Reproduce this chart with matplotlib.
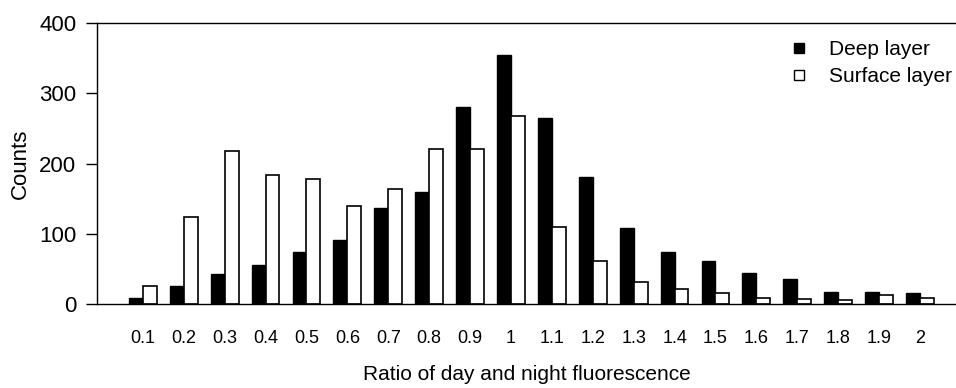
import matplotlib
matplotlib.use("Agg")
import matplotlib.pyplot as plt
from matplotlib.lines import Line2D
import numpy as np

plt.rcParams['font.family'] = ['Liberation Sans', 'DejaVu Sans']

ratios = ["0.1", "0.2", "0.3", "0.4", "0.5", "0.6", "0.7", "0.8", "0.9", "1",
          "1.1", "1.2", "1.3", "1.4", "1.5", "1.6", "1.7", "1.8", "1.9", "2"]
deep = [8, 25, 42, 55, 74, 91, 137, 160, 280, 354,
        265, 181, 108, 74, 61, 44, 35, 17, 17, 15]
surface = [25, 124, 218, 183, 178, 139, 163, 220, 221, 268,
           110, 61, 31, 21, 16, 9, 7, 6, 13, 8]

fig = plt.figure(figsize=(9.56, 3.88), dpi=100)
ax = fig.add_axes([97/956, 1-304/388, 1-97/956, (304-23)/388])

x = np.arange(len(ratios)); w = 0.34
ax.bar(x-w/2, deep, w, color="black", edgecolor="black", linewidth=1.0)
ax.bar(x+w/2, surface, w, color="white", edgecolor="black", linewidth=1.2)

ax.set_xlim(-1.12, len(ratios)-1+0.88)
ax.set_ylim(0, 400)
ax.set_yticks([0, 100, 200, 300, 400])
ax.set_xticks(x); ax.set_xticklabels(ratios)
ax.tick_params(axis="y", direction="out", length=8, width=1.0, pad=7, labelsize=16)
ax.tick_params(axis="x", length=0, pad=19, labelsize=13)
ax.spines["right"].set_visible(False)
for s in ["left", "top", "bottom"]:
    ax.spines[s].set_linewidth(1.0)
ax.set_ylabel("Counts", fontsize=16, labelpad=6)
ax.set_xlabel("Ratio of day and night fluorescence", fontsize=15, labelpad=13)

handles = [Line2D([], [], ls="none", marker="s", ms=7, mfc="black", mec="black"),
           Line2D([], [], ls="none", marker="s", ms=7, mfc="white", mec="black", mew=1.0)]
ax.legend(handles, ["Deep layer", "Surface layer"], loc="upper left",
          bbox_to_anchor=(789/956, 1-40/388), bbox_transform=fig.transFigure,
          frameon=False, fontsize=15, handlelength=1.0, handletextpad=0.9,
          borderpad=0, borderaxespad=0, labelspacing=0.4)

fig.savefig("out.png", dpi=100)
